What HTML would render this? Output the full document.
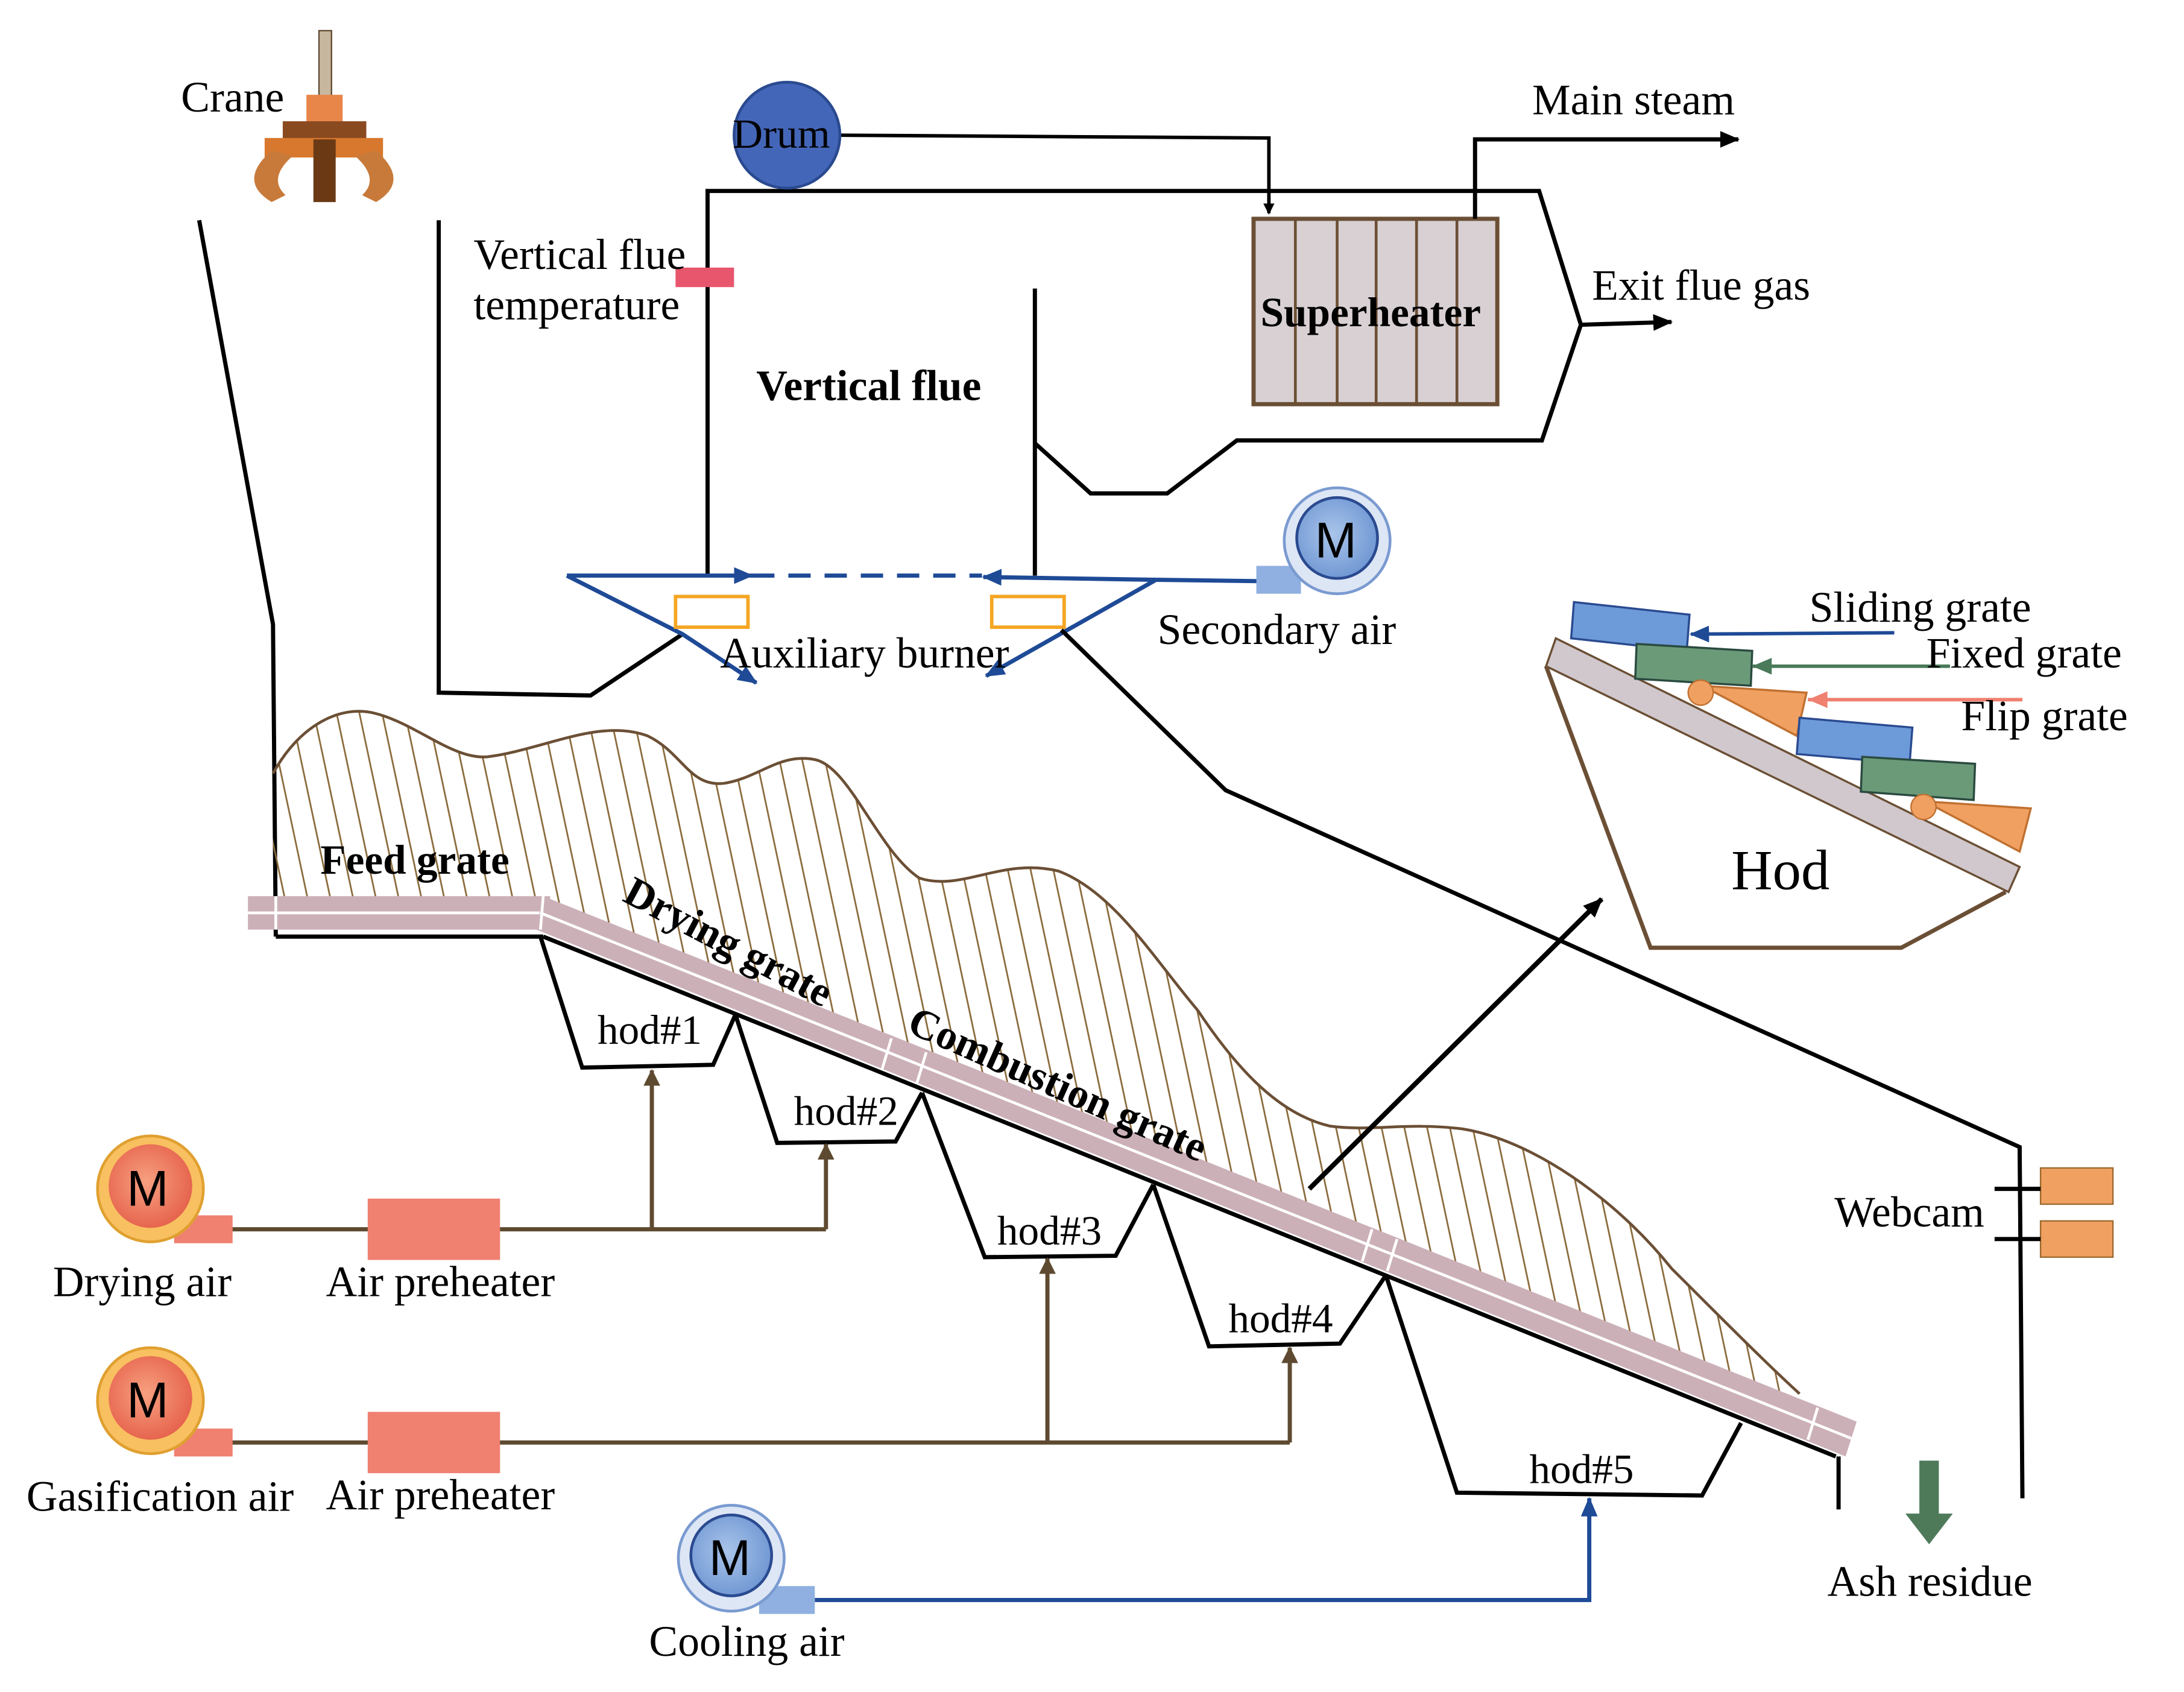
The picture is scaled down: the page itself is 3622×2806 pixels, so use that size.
<!DOCTYPE html>
<html><head><meta charset="utf-8"><style>
html,body{margin:0;padding:0;background:#fff}
svg{display:block}
text{font-family:"Liberation Serif",serif;fill:#000}
</style></head><body>
<svg width="3622" height="2806" viewBox="0 0 1568 1214" preserveAspectRatio="none" xmlns="http://www.w3.org/2000/svg">
<defs>
<marker id="ak" markerWidth="8" markerHeight="8" refX="7" refY="4" orient="auto" markerUnits="userSpaceOnUse"><path d="M0,0 L8,4 L0,8z" fill="#000"/></marker>
<marker id="ab" markerWidth="14" markerHeight="12" refX="13" refY="6" orient="auto" markerUnits="userSpaceOnUse"><path d="M0,0 L14,6 L0,12z" fill="#1e4a96"/></marker>
<marker id="abr" markerWidth="12" markerHeight="12" refX="11" refY="6" orient="auto" markerUnits="userSpaceOnUse"><path d="M0,0 L12,6 L0,12z" fill="#5e4a30"/></marker>
<marker id="akl" markerWidth="14" markerHeight="12" refX="13" refY="6" orient="auto" markerUnits="userSpaceOnUse"><path d="M0,0 L14,6 L0,12z" fill="#000"/></marker>
<pattern id="hatch" width="16" height="20" patternUnits="userSpaceOnUse" patternTransform="rotate(-12)"><line x1="2" y1="0" x2="2" y2="20" stroke="#8a6a3a" stroke-width="1.2"/></pattern>
<radialGradient id="og" cx="0.45" cy="0.45" r="0.6"><stop offset="0" stop-color="#f7a080"/><stop offset="1" stop-color="#e5604a"/></radialGradient>
<radialGradient id="bg" cx="0.45" cy="0.45" r="0.6"><stop offset="0" stop-color="#a9c4ea"/><stop offset="1" stop-color="#6d95d2"/></radialGradient>
</defs>

<!-- crane -->
<rect x="229" y="22" width="9" height="48" fill="#c8b79f" stroke="#5e4a30"/>
<rect x="220" y="68" width="26" height="20" fill="#e8864a"/>
<rect x="203" y="87" width="60" height="13" fill="#8a4a20"/>
<rect x="190" y="99" width="85" height="14" fill="#d8782e"/>
<rect x="225" y="100" width="16" height="45" fill="#6b3a15"/>
<path d="M195,108 Q170,130 195,145 L205,140 Q192,128 210,112z" fill="#c87a3a"/>
<path d="M270,108 Q295,130 270,145 L260,140 Q273,128 255,112z" fill="#c87a3a"/>
<text x="130" y="80" font-size="31">Crane</text>

<!-- hopper -->
<polyline points="143,158 196,448 198,672" fill="none" stroke="#000" stroke-width="3"/>
<polyline points="315,158 315,497 424,499 490,455" fill="none" stroke="#000" stroke-width="3"/>

<!-- flue -->
<polyline points="508,413 508,137 1105,137 1135,233 1107,316 888,316 838,354 783,354 743,318" fill="none" stroke="#000" stroke-width="3"/>
<line x1="743" y1="207" x2="743" y2="413" stroke="#000" stroke-width="3"/>
<rect x="485" y="192" width="42" height="14" fill="#e8566e"/>
<text x="340" y="193" font-size="31">Vertical flue</text>
<text x="340" y="229" font-size="31">temperature</text>
<text x="543" y="287" font-size="31" font-weight="bold">Vertical flue</text>

<!-- drum -->
<polyline points="603,97 911,99 911,153" fill="none" stroke="#000" stroke-width="2.5" marker-end="url(#ak)"/>
<circle cx="565" cy="97" r="38" fill="#4466b8" stroke="#2a4a90" stroke-width="2"/>
<text x="526" y="106" font-size="30">Drum</text>

<!-- superheater -->
<rect x="900" y="157" width="175" height="133" fill="#d8d0d2" stroke="#6b4f35" stroke-width="3"/>
<g stroke="#6b4f35" stroke-width="2"><line x1="930" y1="157" x2="930" y2="290"/><line x1="960" y1="157" x2="960" y2="290"/><line x1="988" y1="157" x2="988" y2="290"/><line x1="1017" y1="157" x2="1017" y2="290"/><line x1="1046" y1="157" x2="1046" y2="290"/></g>
<text x="905" y="234" font-size="30" font-weight="bold">Superheater</text>
<polyline points="1059,157 1059,100 1248,100" fill="none" stroke="#000" stroke-width="3" marker-end="url(#akl)"/>
<text x="1100" y="82" font-size="31">Main steam</text>
<line x1="1135" y1="233" x2="1200" y2="231" stroke="#000" stroke-width="3" marker-end="url(#akl)"/>
<text x="1143" y="215" font-size="31">Exit flue gas</text>

<!-- burner -->
<g stroke="#1e4a96" stroke-width="3" fill="none">
<line x1="407" y1="413" x2="540" y2="413" marker-end="url(#ab)"/>
<line x1="540" y1="413" x2="705" y2="413" stroke-dasharray="16,10"/>
<line x1="830" y1="416" x2="706" y2="414" marker-end="url(#ab)"/>
<polyline points="407,413 490,455 543,490" marker-end="url(#ab)"/>
<line x1="830" y1="416" x2="708" y2="485" marker-end="url(#ab)"/>
<line x1="830" y1="416" x2="905" y2="417"/>
</g>
<rect x="485" y="428" width="52" height="22" fill="#fff" stroke="#f5a623" stroke-width="2.5"/>
<rect x="712" y="428" width="52" height="22" fill="#fff" stroke="#f5a623" stroke-width="2.5"/>
<text x="517" y="479" font-size="31">Auxiliary burner</text>
<rect x="902" y="406" width="32" height="20" fill="#8fb0e0"/>
<circle cx="960" cy="388" r="38" fill="#dde6f5" stroke="#7a9ad0" stroke-width="2"/>
<circle cx="960" cy="386" r="29" fill="url(#bg)" stroke="#2a4a90" stroke-width="2"/>
<text x="944" y="400" font-size="36" style="font-family:'Liberation Sans',sans-serif">M</text>
<text x="831" y="462" font-size="31">Secondary air</text>

<!-- long line to webcam -->
<polyline points="762,452 880,567 1450,823 1452,1075" fill="none" stroke="#000" stroke-width="3"/>
<rect x="1465" y="838" width="52" height="26" fill="#f0a060" stroke="#9a6a30"/>
<rect x="1465" y="876" width="52" height="26" fill="#f0a060" stroke="#9a6a30"/>
<line x1="1432" y1="853" x2="1465" y2="853" stroke="#000" stroke-width="3"/>
<line x1="1432" y1="889" x2="1465" y2="889" stroke="#000" stroke-width="3"/>
<text x="1317" y="880" font-size="31">Webcam</text>

<!-- pile -->
<path d="M196,555 C215,520 245,505 270,512 C300,520 325,545 350,543 C390,538 430,515 465,528 C490,540 495,565 520,562 C545,558 560,540 585,545 C610,550 630,610 660,630 C690,640 720,615 760,625 C800,640 830,690 860,725 C890,770 920,800 955,808 C985,812 1010,805 1050,810 C1100,818 1160,860 1200,910 C1240,950 1270,980 1292,1000 L1292,1020 L390,650 L196,650 z" fill="url(#hatch)" stroke="none"/>
<path d="M196,555 C215,520 245,505 270,512 C300,520 325,545 350,543 C390,538 430,515 465,528 C490,540 495,565 520,562 C545,558 560,540 585,545 C610,550 630,610 660,630 C690,640 720,615 760,625 C800,640 830,690 860,725 C890,770 920,800 955,808 C985,812 1010,805 1050,810 C1100,818 1160,860 1200,910 C1240,950 1270,980 1292,1000" fill="none" stroke="#6b4f35" stroke-width="2"/>

<!-- hods -->
<g fill="none" stroke="#000" stroke-width="3">
<polyline points="388,672 418,766 512,764 528,728"/>
<polyline points="528,728 558,820 643,819 662,784"/>
<polyline points="662,784 707,902 801,901 828,850"/>
<polyline points="828,850 868,966 962,964 995,915"/>
<polyline points="995,915 1046,1071 1222,1073 1250,1021"/>
<line x1="1320" y1="1045" x2="1320" y2="1083"/>
<line x1="198" y1="672" x2="390" y2="672"/>
<line x1="390" y1="672" x2="1318" y2="1045"/>
</g>
<text x="429" y="749" font-size="30">hod#1</text>
<text x="570" y="807" font-size="30">hod#2</text>
<text x="716" y="893" font-size="30">hod#3</text>
<text x="882" y="956" font-size="30">hod#4</text>
<text x="1098" y="1064" font-size="30">hod#5</text>

<!-- grate -->
<rect x="178" y="643" width="217" height="24" fill="#ccb0b8"/>
<line x1="178" y1="655" x2="395" y2="655" stroke="#fff" stroke-width="2"/>
<polygon points="390,643 1333,1020 1325,1045 385,667" fill="#ccb0b8"/>
<line x1="388" y1="655" x2="1329" y2="1032" stroke="#fff" stroke-width="2"/>
<g stroke="#fff" stroke-width="2"><line x1="198" y1="643" x2="198" y2="667"/><line x1="390" y1="643" x2="388" y2="667"/><line x1="640" y1="745" x2="633" y2="768"/><line x1="665" y1="755" x2="658" y2="778"/><line x1="985" y1="882" x2="978" y2="905"/><line x1="1003" y1="889" x2="996" y2="912"/><line x1="1305" y1="1010" x2="1298" y2="1033"/></g>
<text x="230" y="627" font-size="30" font-weight="bold">Feed grate</text>
<text x="446" y="646" font-size="30" font-weight="bold" transform="rotate(28 446 646)">Drying grate</text>
<text x="650" y="740" font-size="30" font-weight="bold" transform="rotate(24 650 740)">Combustion grate</text>

<!-- air lines -->
<g stroke="#5e4a30" stroke-width="3" fill="none">
<line x1="165" y1="882" x2="593" y2="882"/>
<line x1="468" y1="882" x2="468" y2="768" marker-end="url(#abr)"/>
<line x1="593" y1="882" x2="593" y2="821" marker-end="url(#abr)"/>
<line x1="165" y1="1035" x2="926" y2="1035"/>
<line x1="752" y1="1035" x2="752" y2="903" marker-end="url(#abr)"/>
<line x1="926" y1="1035" x2="926" y2="967" marker-end="url(#abr)"/>
</g>
<rect x="264" y="860" width="95" height="44" fill="#f08070"/>
<rect x="264" y="1013" width="95" height="44" fill="#f08070"/>
<rect x="125" y="872" width="42" height="20" fill="#f08070"/>
<rect x="125" y="1025" width="42" height="20" fill="#f08070"/>
<circle cx="108" cy="853" r="38" fill="#f8c060" stroke="#e0a030" stroke-width="2"/>
<circle cx="108" cy="851" r="30" fill="url(#og)"/>
<text x="91" y="865" font-size="36" style="font-family:'Liberation Sans',sans-serif">M</text>
<circle cx="108" cy="1005" r="38" fill="#f8c060" stroke="#e0a030" stroke-width="2"/>
<circle cx="108" cy="1003" r="30" fill="url(#og)"/>
<text x="91" y="1017" font-size="36" style="font-family:'Liberation Sans',sans-serif">M</text>
<text x="38" y="930" font-size="31">Drying air</text>
<text x="234" y="930" font-size="31">Air preheater</text>
<text x="19" y="1084" font-size="31">Gasification air</text>
<text x="234" y="1083" font-size="31">Air preheater</text>

<!-- cooling -->
<polyline points="585,1148 1141,1148 1141,1075" fill="none" stroke="#1e4a96" stroke-width="3" marker-end="url(#ab)"/>
<rect x="545" y="1138" width="40" height="20" fill="#8fb0e0"/>
<circle cx="525" cy="1118" r="38" fill="#dde6f5" stroke="#7a9ad0" stroke-width="2"/>
<circle cx="525" cy="1116" r="29" fill="url(#bg)" stroke="#2a4a90" stroke-width="2"/>
<text x="509" y="1130" font-size="36" style="font-family:'Liberation Sans',sans-serif">M</text>
<text x="466" y="1188" font-size="31">Cooling air</text>

<!-- ash -->
<rect x="1378" y="1048" width="14" height="40" fill="#4e7a5a"/>
<path d="M1368,1086 L1402,1086 L1385,1108z" fill="#4e7a5a"/>
<text x="1312" y="1145" font-size="31">Ash residue</text>

<!-- arrow to hod inset -->
<line x1="940" y1="853" x2="1150" y2="645" stroke="#000" stroke-width="3.5" marker-end="url(#akl)"/>

<!-- hod inset -->
<polyline points="1110,478 1185,680 1365,680 1440,640" fill="none" stroke="#6b4f35" stroke-width="3"/>
<polygon points="1117,458 1450,622 1442,640 1110,478" fill="#d0c8cc" stroke="#6b4f35" stroke-width="1.5"/>
<polygon points="1130,432 1213,441 1211,467 1128,458" fill="#6d9ad8" stroke="#2a4a90" stroke-width="1.5"/>
<polygon points="1175,462 1258,467 1257,492 1174,487" fill="#6b9a78" stroke="#2a4a40" stroke-width="1.5"/>
<polygon points="1222,492 1297,497 1290,528" fill="#f0a060" stroke="#c07030" stroke-width="1.5"/>
<circle cx="1221" cy="497" r="9" fill="#f0a060" stroke="#c07030"/>
<polygon points="1292,515 1373,522 1371,548 1290,541" fill="#6d9ad8" stroke="#2a4a90" stroke-width="1.5"/>
<polygon points="1337,543 1418,548 1417,574 1336,568" fill="#6b9a78" stroke="#2a4a40" stroke-width="1.5"/>
<polygon points="1382,575 1458,580 1450,611" fill="#f0a060" stroke="#c07030" stroke-width="1.5"/>
<circle cx="1381" cy="579" r="9" fill="#f0a060" stroke="#c07030"/>
<line x1="1360" y1="454" x2="1214" y2="455" stroke="#1e4a96" stroke-width="2.5" marker-end="url(#ab)"/>
<line x1="1400" y1="478" x2="1258" y2="478" stroke="#4a7a5a" stroke-width="2.5"/>
<path d="M1258,478 L1272,472 L1272,484z" fill="#4a7a5a"/>
<line x1="1452" y1="502" x2="1298" y2="502" stroke="#f08070" stroke-width="2.5"/>
<path d="M1298,502 L1312,496 L1312,508z" fill="#f08070"/>
<text x="1299" y="446" font-size="31">Sliding grate</text>
<text x="1383" y="479" font-size="31">Fixed grate</text>
<text x="1408" y="524" font-size="31">Flip grate</text>
<text x="1243" y="638" font-size="41">Hod</text>
</svg>
</body></html>
